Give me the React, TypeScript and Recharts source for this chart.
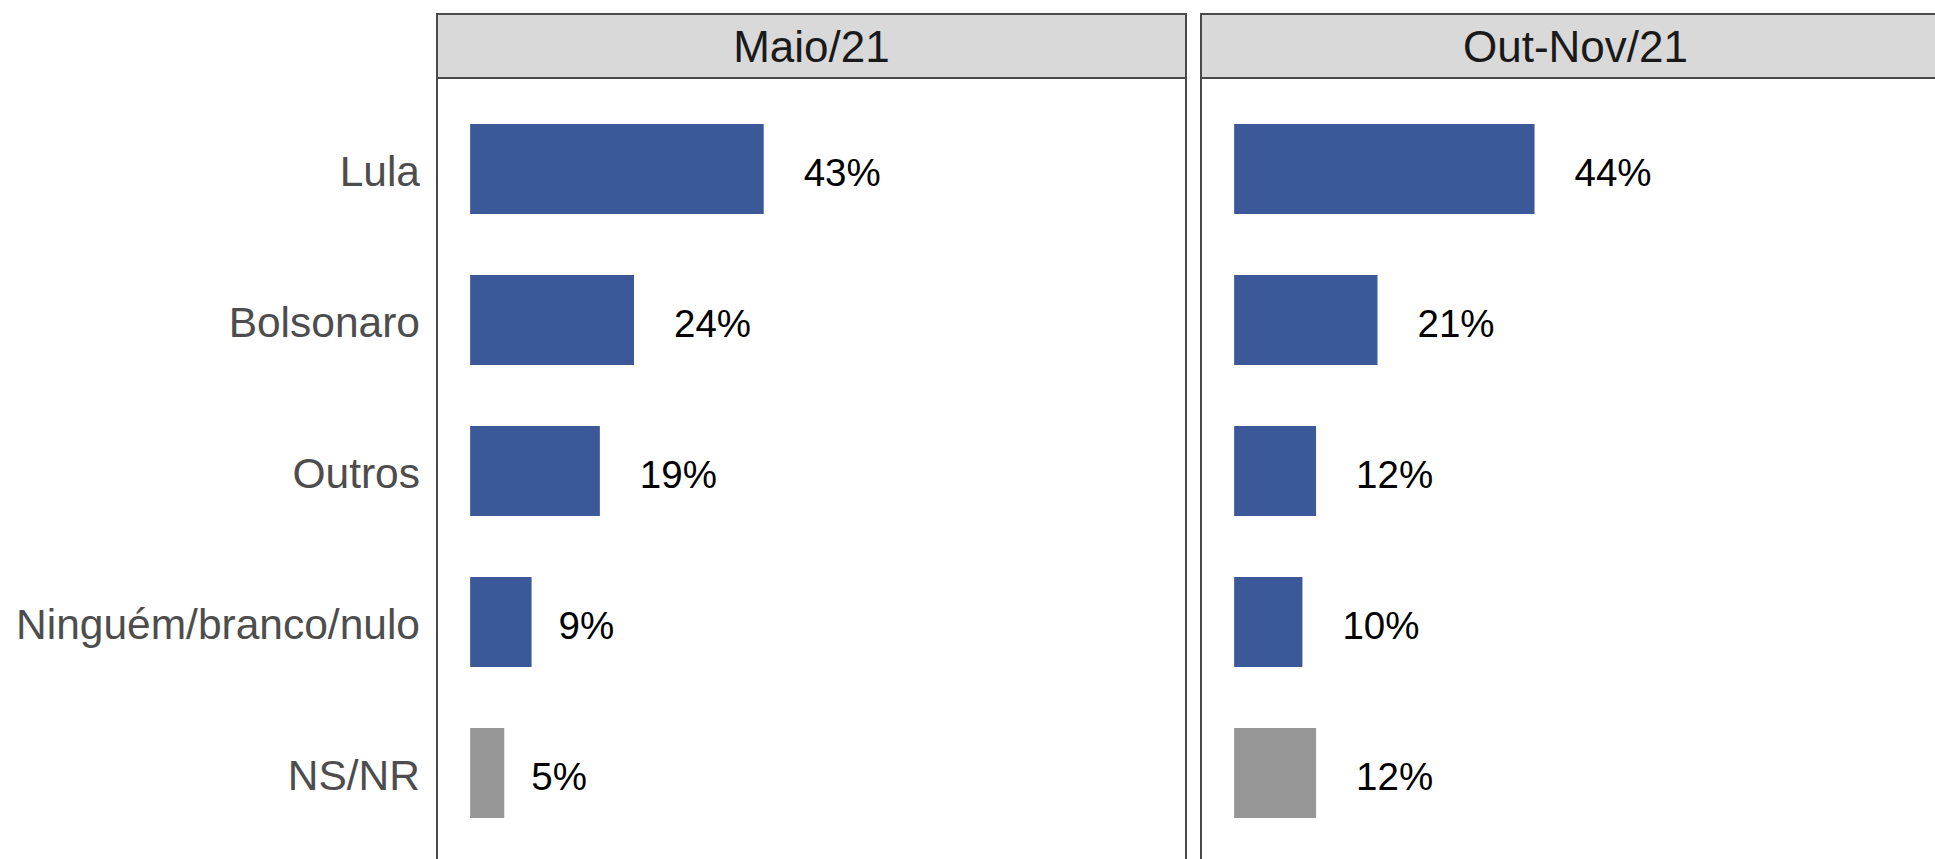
import { BarChart, Bar, XAxis, YAxis, Cell, LabelList } from 'recharts';

const categories = ['Lula', 'Bolsonaro', 'Outros', 'Ninguém/branco/nulo', 'NS/NR'];
const maio21 = [43, 24, 19, 9, 5];
const outNov21 = [44, 21, 12, 10, 12];
const panelTitles = ['Maio/21', 'Out-Nov/21'];
const greyCategory = 'NS/NR';

const BLUE = '#3B5998';
const GREY = '#969696';
const FONT = '"Liberation Sans", Arial, sans-serif';

type Row = { name: string; value: number };

const toRows = (vals: number[]): Row[] => categories.map((c, i) => ({ name: c, value: vals[i] }));

const BarLabel = (p: any) => {
  const { x, y, width, height, value } = p;
  const gap = 14 + 13 * String(value).length;
  return (
    <text x={x + width + gap} y={y + height / 2 + 3} dominantBaseline="central" textAnchor="start"
      fontSize={38.5} fill="#000" fontFamily={FONT}>{`${value}%`}</text>
  );
};

const CatTick = (p: any) => {
  const { x, y, payload } = p;
  return (
    <text x={x} y={y + 3} dominantBaseline="central" textAnchor="end"
      fontSize={42.5} fill="#4D4D4D" fontFamily={FONT}>{payload.value}</text>
  );
};

function Panel({ title, rows, left, width, showAxis }: { title: string; rows: Row[]; left: number; width: number; showAxis: boolean }) {
  const axisW = showAxis ? 436 : 0;
  const panelLeft = left + axisW;
  return (
    <>
      {/* frame + strip */}
      <div style={{ position: 'absolute', left: panelLeft, top: 13, width: width, height: 900,
        border: '2px solid #4a4a4a', boxSizing: 'border-box' }} />
      <div style={{ position: 'absolute', left: panelLeft, top: 13, width: width, height: 66,
        background: '#D9D9D9', border: '2px solid #4a4a4a', boxSizing: 'border-box',
        display: 'flex', alignItems: 'center', justifyContent: 'center', paddingTop: 2,
        fontFamily: FONT, fontSize: 44, color: '#1A1A1A' }}>{title}</div>
      <div style={{ position: 'absolute', left: left, top: 78 }}>
        <BarChart width={axisW + width} height={785} data={rows} layout="vertical"
          margin={{ top: 0, right: 0, bottom: 0, left: 0 }}>
          <XAxis type="number" domain={[-5, 105]} hide allowDataOverflow />
          <YAxis type="category" dataKey="name" width={axisW} hide={!showAxis}
            axisLine={false} tickLine={false} tickSize={0} tickMargin={16}
            padding={{ top: 15, bottom: 15 }} tick={<CatTick />} />
          <Bar dataKey="value" barSize={90} isAnimationActive={false}>
            {rows.map((r) => (
              <Cell key={r.name} fill={r.name === greyCategory ? GREY : BLUE} />
            ))}
            <LabelList dataKey="value" content={BarLabel} />
          </Bar>
        </BarChart>
      </div>
    </>
  );
}

export default function App() {
  return (
    <div style={{ position: 'fixed', left: 0, top: 0, width: 1935, height: 859, overflow: 'hidden', background: '#fff' }}>
      <Panel title={panelTitles[0]} rows={toRows(maio21)} left={0} width={751} showAxis />
      <Panel title={panelTitles[1]} rows={toRows(outNov21)} left={1200} width={751} showAxis={false} />
    </div>
  );
}
